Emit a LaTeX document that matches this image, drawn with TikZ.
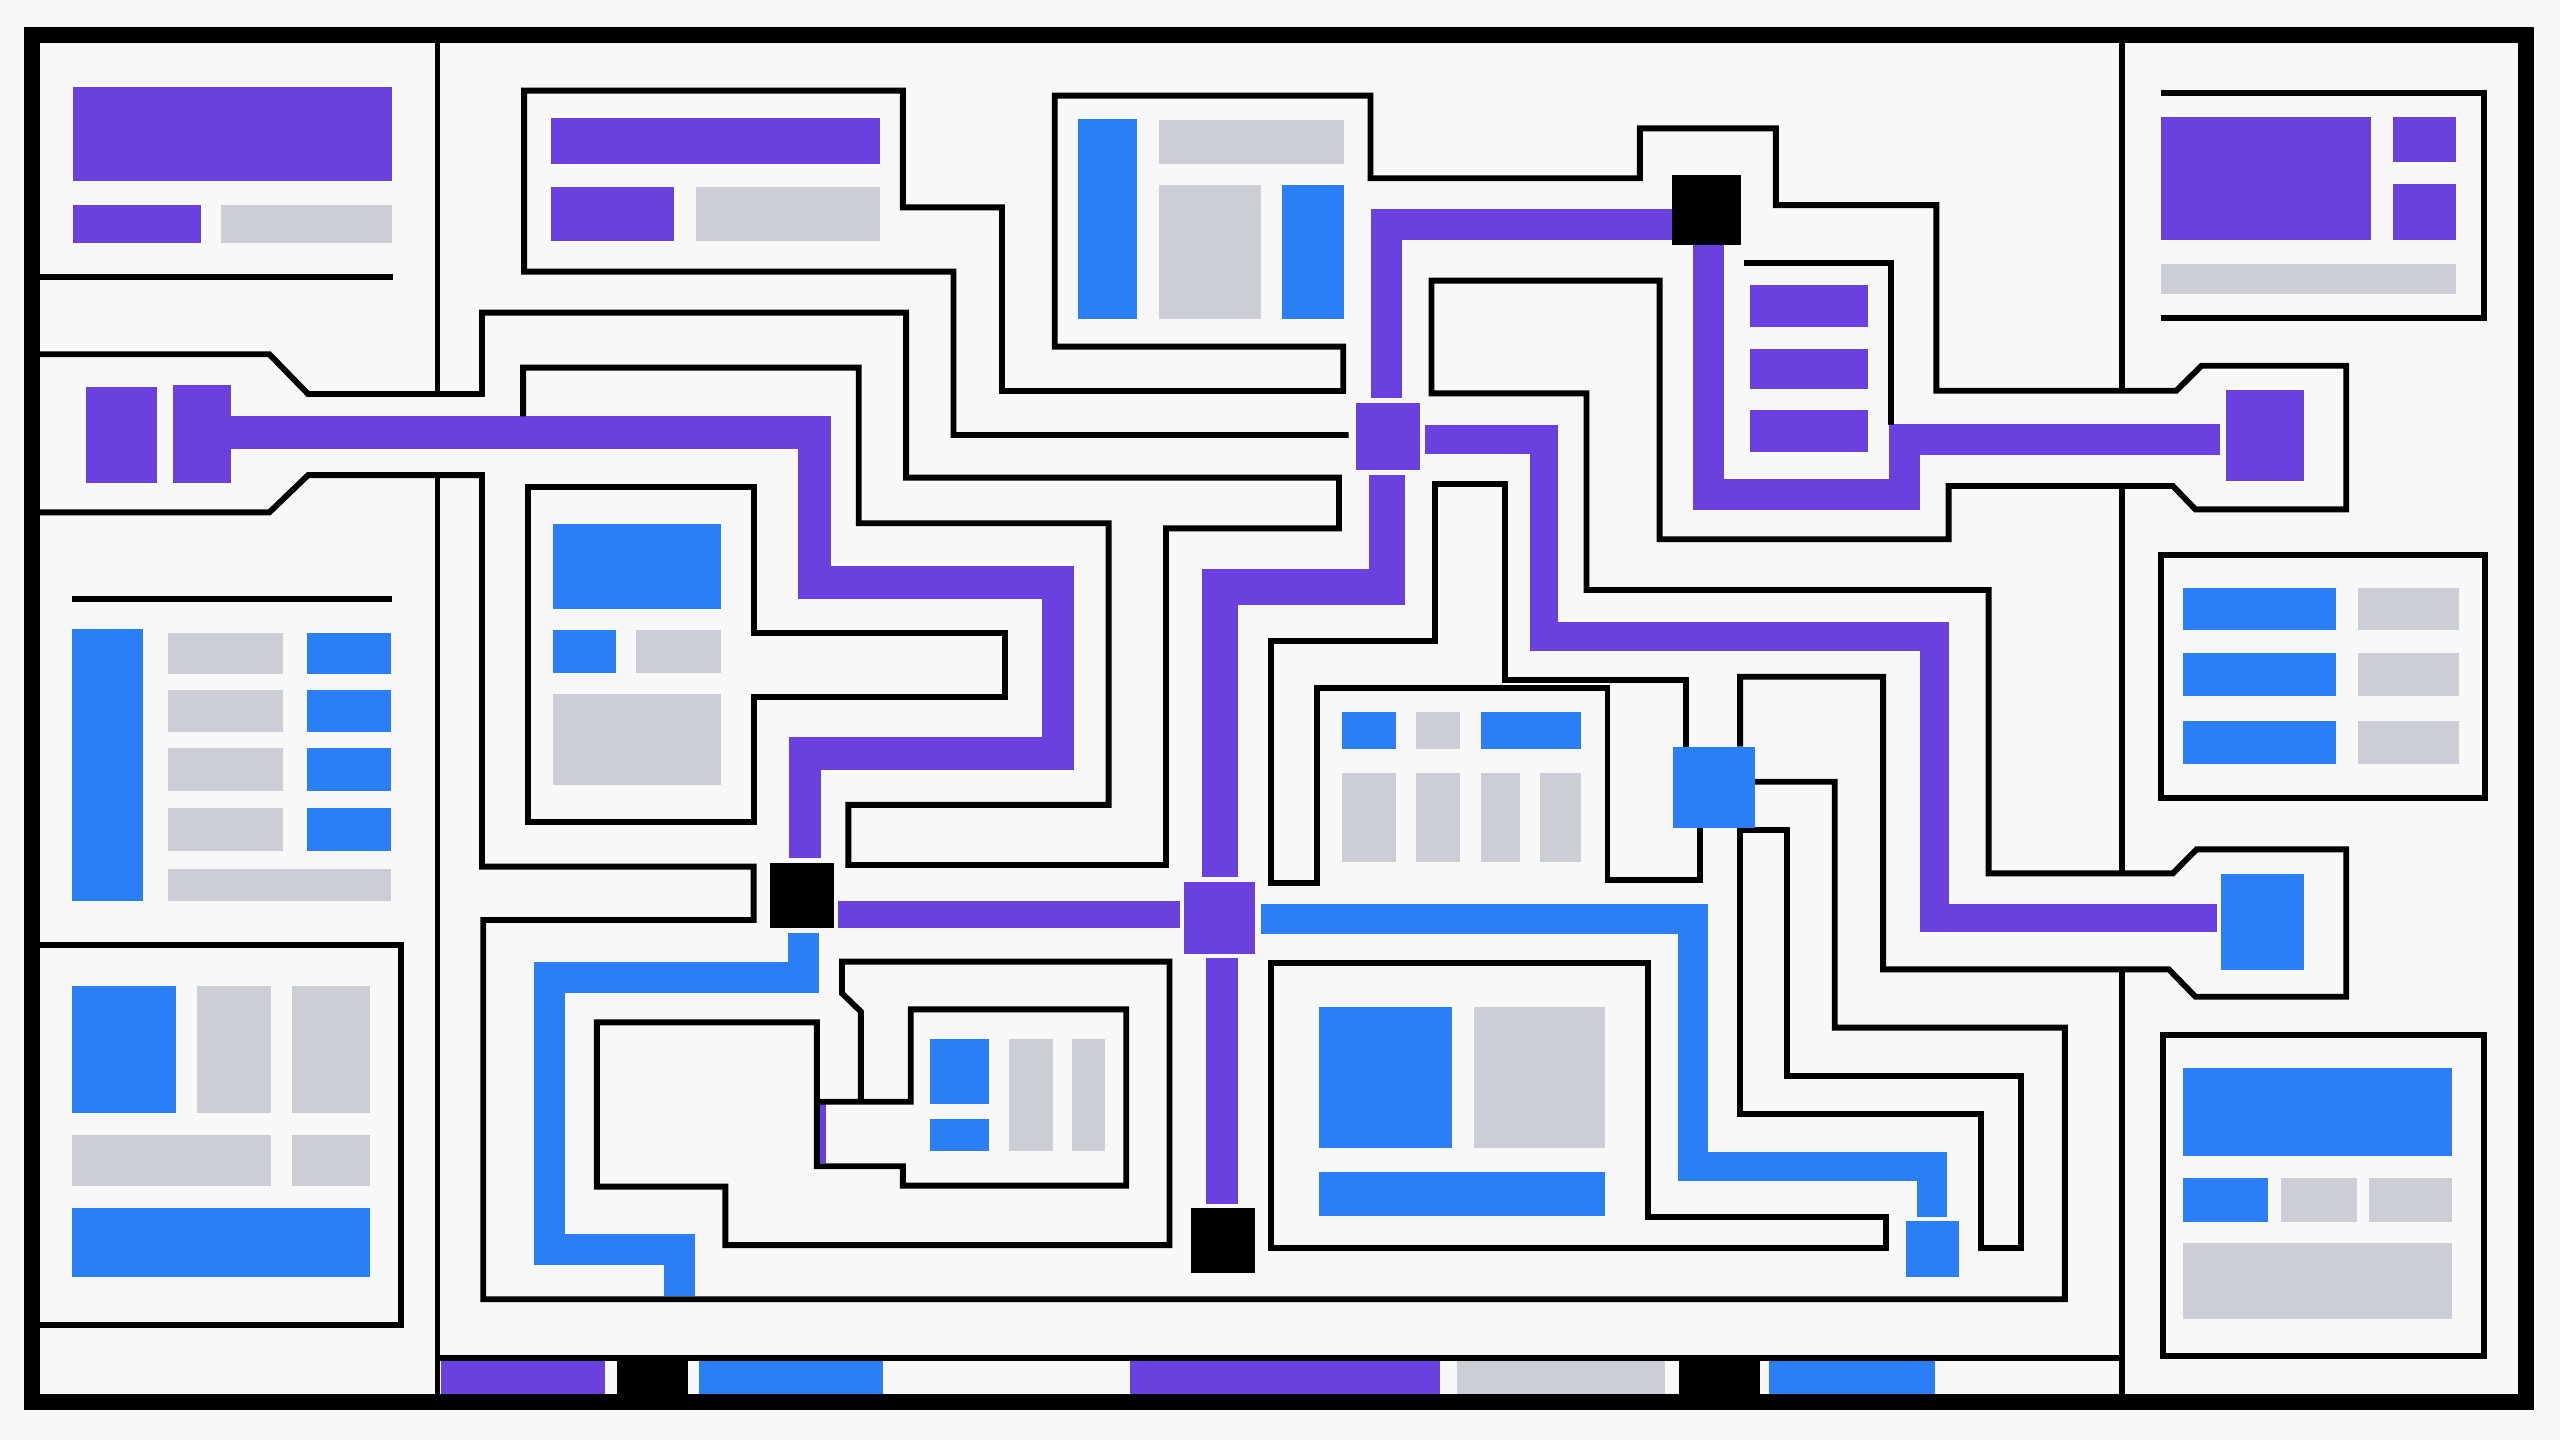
\documentclass[tikz,border=0pt]{standalone}
\usepackage{tikz}
\definecolor{vio}{HTML}{6A40DE}
\definecolor{azu}{HTML}{2B7FF6}
\definecolor{ash}{HTML}{CCCED5}
\definecolor{paper}{HTML}{F8F8F8}
\tikzset{
  wire/.style={draw=black, line width=0.36mm, line join=miter},
  rim/.style={draw=black, line width=0.98mm},
  vband/.style={draw=vio, line width=2mm, line join=miter},
  aband/.style={draw=azu, line width=1.9mm, line join=miter},
}
\begin{document}
\begin{tikzpicture}[x=0.1mm, y=-0.1mm]
\fill[paper] (0,0) rectangle (1568,882);
\useasboundingbox (0,0) rectangle (1568,882);

\fill[vio] (44.6,53.5) rectangle (240.3,110.7);
\fill[vio] (44.6,125.4) rectangle (123,149);
\fill[ash] (135.6,125.4) rectangle (240,149);
\fill[vio] (52.9,237.2) rectangle (95.9,296);
\fill[vio] (105.7,235.8) rectangle (141.3,295.6);
\fill[azu] (44.1,385.5) rectangle (87.4,551.9);
\foreach \a/\b in {387.7/412.6, 422.8/448.3, 458.3/484.3, 495.1/521.2} {
  \fill[ash] (102.6,\a) rectangle (173.2,\b);
  \fill[azu] (187.9,\a) rectangle (239.5,\b);
}
\fill[ash] (102.6,532.3) rectangle (239.5,551.9);
\fill[azu] (44.1,603.7) rectangle (107.5,681.5);
\fill[ash] (120.4,603.7) rectangle (165.8,681.5);
\fill[ash] (178.7,603.7) rectangle (226.6,681.5);
\fill[ash] (44.1,695.2) rectangle (165.8,726.2);
\fill[ash] (178.7,695.2) rectangle (226.6,726.2);
\fill[azu] (44.1,739.9) rectangle (226.6,781.9);

\fill[vio] (337.7,72.5) rectangle (539,100.6);
\fill[vio] (337.7,114.7) rectangle (413.1,147.6);
\fill[ash] (426,114.7) rectangle (539,147.6);

\fill[azu] (660.1,73.1) rectangle (696.2,195.6);
\fill[ash] (709.6,73.5) rectangle (823.2,100.4);
\fill[ash] (709.6,113.3) rectangle (772.3,195.6);
\fill[azu] (785.1,113.3) rectangle (823.2,195.6);

\fill[azu] (338.5,320.7) rectangle (441.8,373.2);
\fill[azu] (338.5,385.9) rectangle (377,412.4);
\fill[ash] (389.8,385.9) rectangle (441.8,412.4);
\fill[ash] (338.5,425) rectangle (441.8,481);

\foreach \a/\b in {174.6/200, 214/238.3, 251.1/277}
  \fill[vio] (1072,\a) rectangle (1144.4,\b);

\fill[vio] (1323.4,71.9) rectangle (1452.4,147);
\fill[vio] (1465.9,71.9) rectangle (1504.4,99);
\fill[vio] (1465.9,112.7) rectangle (1504.4,147);
\fill[ash] (1323.4,161.7) rectangle (1504.4,180);
\foreach \a/\b in {360/385.9, 400.2/426.1, 441.6/468} {
  \fill[azu] (1337,\a) rectangle (1431,\b);
  \fill[ash] (1444,\a) rectangle (1505.9,\b);
}
\fill[azu] (1337.2,654) rectangle (1502.1,707.8);
\fill[azu] (1337.2,721.7) rectangle (1389.2,748.3);
\fill[ash] (1397,721.7) rectangle (1443.6,748.3);
\fill[ash] (1451,721.7) rectangle (1502.1,748.3);
\fill[ash] (1337.2,761.1) rectangle (1502.1,807.9);
\fill[vio] (1363.7,238.9) rectangle (1411.4,294.6);
\fill[azu] (1360.2,535.3) rectangle (1411.4,594.1);

\fill[azu] (821.9,436.3) rectangle (855.2,459);
\fill[ash] (867,436.3) rectangle (894.3,459);
\fill[azu] (907,436.3) rectangle (968.6,459);
\foreach \a/\b in {821.9/855.2, 867/894.3, 907/931, 943/968.6}
  \fill[ash] (\a,473.7) rectangle (\b,527.8);

\fill[azu] (569.4,636.6) rectangle (605.5,676.2);
\fill[azu] (569.4,685.6) rectangle (605.5,704.8);
\fill[ash] (617.8,636.6) rectangle (644.9,704.8);
\fill[ash] (656.5,636.6) rectangle (677.1,704.8);
\fill[vio] (500.3,676.2) rectangle (506.2,712.5);

\fill[azu] (808,616.6) rectangle (889.2,703.3);
\fill[ash] (903.1,616.6) rectangle (983,703.3);
\fill[azu] (808,718) rectangle (983,744.8);

\fill[vio] (270,833.6) rectangle (370.5,860);
\fill[black] (378,833.6) rectangle (421.6,860);
\fill[azu] (428.1,833.6) rectangle (541,860);
\fill[vio] (692.3,833.6) rectangle (882,860);
\fill[ash] (892.5,833.6) rectangle (1019.6,860);
\fill[black] (1028.4,833.6) rectangle (1077.9,860);
\fill[azu] (1083.8,833.6) rectangle (1184.9,860);

\draw[vband] (141,264.7) -- (499,264.7) -- (499,356.7) -- (648,356.7) -- (648,461.7) -- (493,461.7) -- (493,525.7);
\draw[vband, line width=1.7mm] (513.2,560.1) -- (722.8,560.1);
\draw[vband, line width=2.2mm] (747.5,537) -- (747.5,359.3) -- (849.7,359.3) -- (849.7,290.9);
\draw[vband, line width=1.9mm] (849,244) -- (849,137.6) -- (1024.3,137.6);
\draw[vband, line width=1.9mm] (1046.3,150) -- (1046.3,302.7) -- (1166.7,302.7) -- (1166.7,269) -- (1359.7,269);
\draw[vband, line width=1.75mm] (872.9,269.3) -- (945.6,269.3) -- (945.6,390) -- (1185,390) -- (1185,562.2) -- (1358,562.2);
\draw[vband] (748.4,587) -- (748.4,737.4);
\draw[aband] (492.4,571.2) -- (492.4,598.6) -- (336.8,598.6) -- (336.8,765.5) -- (416,765.5) -- (416,794);
\draw[aband, line width=1.8mm] (772.3,562.8) -- (1036.9,562.8) -- (1036.9,714.6) -- (1183.4,714.6) -- (1183.4,745.2);

\draw[wire] (826,266.4) -- (584,266.4) -- (584,166.4) -- (321,166.4) -- (321,55.5) -- (553,55.5) -- (553,127) -- (613.7,127) -- (613.7,239.5) -- (822.7,239.5) -- (822.7,212.3) -- (646,212.3) -- (646,58.6) -- (839.4,58.6) -- (839.4,109.2) -- (1004.4,109.2) -- (1004.4,78.6) -- (1087.7,78.6) -- (1087.7,125.6) -- (1186,125.6) -- (1186,239.3) -- (1333,239.3) -- (1348.4,224) -- (1437.1,224) -- (1437.1,312) -- (1344.7,312) -- (1330.9,297.7) -- (1193.5,297.7) -- (1193.5,330.3) -- (1016.5,330.3) -- (1016.5,171.9) -- (876.8,171.9) -- (876.8,240.9) -- (971.7,240.9) -- (971.7,361.4) -- (1218,361.4) -- (1218,534.9) -- (1330.9,534.9) -- (1345.4,520.2) -- (1437.1,520.2) -- (1437.1,610.5) -- (1344.7,610.5) -- (1328.4,593.7) -- (1153.4,593.7) -- (1153.4,414.5) -- (1065.8,414.5) -- (1065.8,457.3);
\draw[wire] (20,217) -- (165,217) -- (188.7,241.3) -- (295.2,241.3) -- (295.2,191.5) -- (555,191.5) -- (555,292.5) -- (820.1,292.5) -- (820.1,323.6) -- (714.2,323.6) -- (714.2,529.8) -- (519.6,529.8) -- (519.6,493) -- (679,493) -- (679,320.5) -- (526,320.5) -- (526,225.2) -- (320.4,225.2) -- (320.4,255);
\draw[wire] (20,313.8) -- (165,313.8) -- (188.7,291) -- (295.2,291) -- (295.2,530.8) -- (461.6,530.8) -- (461.6,563.5) -- (296,563.5) -- (296,795.8) -- (1264.7,795.8) -- (1264.7,629.4) -- (1123.8,629.4) -- (1123.8,478.8) -- (1074.8,478.8);
\draw[wire] (268,21.6) -- (268,241.3) (268,291) -- (268,858.7);
\draw[wire] (1299.7,21.6) -- (1299.7,239.3) (1299.7,297.7) -- (1299.7,534.9) (1299.7,593.7) -- (1299.7,858.7);
\draw[wire] (20,169.9) -- (240.8,169.9);
\draw[wire] (43.8,366.9) -- (239.8,366.9);
\draw[wire] (20,578.8) -- (245.7,578.8) -- (245.7,811.6) -- (20,811.6);
\draw[wire] (323.5,298.5) -- (461.6,298.5) -- (461.6,387.5) -- (615.8,387.5) -- (615.8,427.1) -- (461.6,427.1) -- (461.6,503.3) -- (323.5,503.3) -- cycle;
\draw[wire] (527.3,674.8) -- (527.3,619.6) -- (515.7,608.4) -- (515.7,589) -- (716.3,589) -- (716.3,762.6) -- (444.3,762.6) -- (444.3,726.8) -- (365.6,726.8) -- (365.6,626.2) -- (500.3,626.2) -- (500.3,714.3) -- (553,714.3) -- (553,726.2) -- (689.8,726.2) -- (689.8,618.2) -- (557.8,618.2) -- (557.8,674.8) -- (500.3,674.8);
\draw[wire] (1041.3,507.3) -- (1041.3,539) -- (984.6,539) -- (984.6,421.6) -- (806.7,421.6) -- (806.7,541) -- (778.7,541) -- (778.7,392.4) -- (878.9,392.4) -- (878.9,296.4) -- (921.9,296.4) -- (921.9,416.5) -- (1032.8,416.5) -- (1032.8,457.3);
\draw[wire] (778.7,590) -- (1009.6,590) -- (1009.6,745.2) -- (1155.2,745.2) -- (1155.2,764.6) -- (778.7,764.6) -- cycle;
\draw[wire] (1065.8,508.4) -- (1065.8,682.3) -- (1213.5,682.3) -- (1213.5,764.6) -- (1237.7,764.6) -- (1237.7,658.8) -- (1094.6,658.8) -- (1094.6,508.4) -- cycle;
\draw[wire] (1068.4,161.3) -- (1158.3,161.3) -- (1158.3,260.5);
\draw[wire] (1323.4,57.2) -- (1521.4,57.2) -- (1521.4,195) -- (1323.4,195);
\draw[wire] (1323.4,340) rectangle (1522.1,489);
\draw[wire] (1324.7,634) rectangle (1521.4,830.5);
\draw[wire] (268,831.6) -- (1299.7,831.6);

\fill[black] (471.9,528.4) rectangle (510.6,568.6);
\fill[black] (1024.3,107.2) rectangle (1066.5,150);
\fill[black] (729.7,739.7) rectangle (768.4,779.9);
\fill[vio] (725.3,540) rectangle (768.9,584.3);
\fill[vio] (830.4,247) rectangle (869.8,287.9);
\fill[azu] (1025,457.3) rectangle (1074.8,507.3);
\fill[azu] (1167.6,747.9) rectangle (1199.7,782);

\draw[rim] (19.8,21.6) rectangle (1547.4,858.7);
\end{tikzpicture}
\end{document}
